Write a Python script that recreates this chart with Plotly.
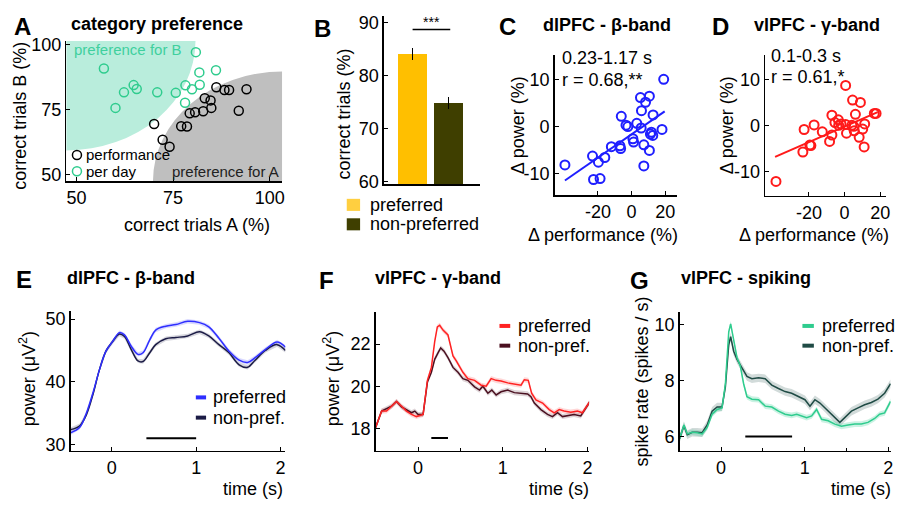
import plotly.graph_objects as go

W, H = 901, 508
FONT = "Liberation Sans, Arial, Helvetica, sans-serif"

# ---------------- data ----------------
# Panel A: category preference
a_perf_x = [70.1, 72.3, 74.1, 77.1, 78.6, 79.3, 80.7, 82.8, 83.2, 84.7, 84.9, 86.2, 88.3, 89.5, 94.0, 92.0]
a_perf_y = [69.5, 63.4, 60.7, 68.6, 68.5, 73.6, 74.0, 74.4, 79.4, 78.6, 75.7, 83.7, 82.6, 82.6, 82.9, 74.6]
a_day_x = [57.1, 80.9, 81.8, 86.1, 64.8, 65.6, 62.3, 70.9, 75.7, 78.2, 79.9, 81.9, 60.1, 78.1]
a_day_y = [90.9, 97.2, 89.4, 90.2, 84.5, 83.0, 81.7, 81.7, 81.5, 84.4, 82.9, 84.6, 75.7, 77.7]
a_ticks = [50, 75, 100]

# Panel B: correct trials
b_labels = ["preferred", "non-preferred"]
b_values = [84.1, 74.8]
b_err = [1.1, 1.1]
b_ticks = [60, 70, 80, 90]

# Panel C: dlPFC beta, delta power vs delta performance
c_x = [-39.6, 19.1, 5.3, 10.6, 8.3, 5.9, 12.8, -6.1, -3.3, -2.2, 3.1, 5.7, 18.1, 11.8, 11.2, 12.6,
       0.8, 1.2, 7.3, 10.6, -12.0, -6.9, -6.5, -23.2, -15.9, -19.7, 7.3, -22.6, -18.7]
c_y = [-8.2, 10.1, 6.2, 6.5, 5.2, 3.4, 2.5, 2.2, 0.3, 0.0, 0.7, -0.3, -0.6, -1.2, -1.6, -1.9,
       -2.6, -3.3, -3.9, -5.1, -4.3, -4.1, -4.7, -6.3, -6.6, -7.6, -8.4, -11.3, -11.1]
c_fit = dict(slope=0.249, intercept=-1.65, xmin=-39.6, xmax=19.7)

# Panel D: vlPFC gamma
d_x = [-38.5, 0.6, 4.5, 8.9, -7.1, 6.1, 16.7, 17.7, -3.5, -5.4, -2.0, 0.6, 4.1, 5.2, 11.3,
       -3.3, -17.1, -22.7, -12.5, 1.1, 5.4, 10.2, -7.1, 8.2, -8.4, -19.5, -18.9, -23.4, 11.0]
d_y = [-12.1, 8.8, 5.6, 5.1, 2.3, 2.5, 2.7, 2.7, 1.3, 0.7, 0.4, 0.3, 0.1, -0.1, 0.4,
       0.1, 0.2, -0.8, -1.3, -1.6, -1.1, -0.7, -2.0, -2.5, -3.4, -4.2, -4.3, -5.7, -4.6]
d_fit = dict(slope=0.169, intercept=-0.17, xmin=-39.0, xmax=18.6)
cd_xticks = [-20, 0, 20]
cd_yticks = [-10, 0, 10]

# Panel E: dlPFC beta power over time
e_t = [-0.49, -0.38, -0.30, -0.22, -0.15, -0.07, 0.01, 0.09, 0.15, 0.23, 0.31, 0.37, 0.45, 0.52,
       0.64, 0.76, 0.90, 1.04, 1.15, 1.27, 1.39, 1.51, 1.61, 1.70, 1.82, 1.96, 2.06]
e_pref = [31.86, 32.74, 35.06, 38.42, 41.78, 44.88, 46.43, 47.83, 47.47, 45.66, 44.37, 44.63, 46.69, 48.24,
          48.86, 49.12, 49.64, 49.43, 48.76, 46.95, 44.88, 43.44, 43.07, 43.85, 45.14, 46.33, 45.5]
e_nonp = [32.38, 33.0, 34.81, 38.17, 41.78, 44.88, 46.43, 47.62, 47.21, 45.14, 43.33, 43.23, 44.63, 45.92,
          46.85, 47.05, 47.31, 47.98, 47.31, 45.92, 44.63, 42.71, 42.30, 43.44, 44.99, 45.92, 44.99]
e_sem = [0.35, 0.35]
e_sig = [0.41, 1.0, 31.0]

# Panel F: vlPFC gamma power over time
f_t_pref = [-0.502, -0.431, -0.373, -0.314, -0.255, -0.196, -0.137, -0.078, -0.020, 0.059, 0.110, 0.157,
            0.196, 0.227, 0.255, 0.294, 0.353, 0.412, 0.451, 0.529, 0.588, 0.667, 0.745, 0.804, 0.863,
            0.922, 0.980, 1.059, 1.137, 1.216, 1.255, 1.302, 1.341, 1.392, 1.471, 1.549, 1.608, 1.667,
            1.725, 1.804, 1.882, 1.941, 2.031]
f_pref = [18.07, 18.84, 18.84, 19.07, 19.29, 19.07, 18.84, 18.68, 18.58, 18.68, 20.29, 20.90,
          22.12, 22.81, 22.89, 22.66, 22.43, 21.44, 21.21, 20.67, 20.37, 20.29, 20.06, 20.01, 20.37,
          20.29, 20.26, 20.17, 20.11, 20.06, 20.32, 20.29, 19.68, 19.37, 19.22, 18.91, 18.76, 18.91,
          18.84, 18.79, 18.84, 18.76, 19.29]
f_t_nonp = [-0.502, -0.431, -0.314, -0.255, -0.196, -0.078, -0.039, 0.0, 0.059, 0.110, 0.157, 0.196,
            0.235, 0.267, 0.306, 0.353, 0.412, 0.471, 0.529, 0.588, 0.667, 0.725, 0.765, 0.824, 0.871,
            0.922, 0.980, 1.059, 1.137, 1.216, 1.294, 1.333, 1.373, 1.451, 1.529, 1.588, 1.647, 1.706,
            1.765, 1.843, 1.922, 2.031]
f_nonp = [18.07, 18.84, 19.07, 19.29, 19.04, 18.76, 18.84, 18.68, 18.68, 20.21, 20.67, 21.28,
          21.59, 21.82, 21.67, 21.36, 20.90, 20.67, 20.37, 20.29, 19.98, 19.83, 20.01, 19.68, 19.83,
          19.60, 19.75, 19.83, 19.71, 19.68, 19.65, 19.52, 19.22, 18.91, 18.68, 18.58, 18.76, 18.58,
          18.61, 18.68, 18.61, 19.29]
f_sem = [0.12, 0.12]
f_sig = [0.156, 0.353, 17.57]

# Panel G: vlPFC spiking over time
g_t_pref = [-0.496, -0.444, -0.404, -0.345, -0.285, -0.226, -0.166, -0.107, -0.047, 0.012, 0.052, 0.092,
            0.115, 0.151, 0.191, 0.230, 0.270, 0.310, 0.369, 0.449, 0.528, 0.607, 0.687, 0.766, 0.845,
            0.905, 0.965, 1.024, 1.084, 1.143, 1.203, 1.282, 1.361, 1.441, 1.520, 1.600, 1.679, 1.758,
            1.838, 1.897, 1.957, 2.028]
g_pref = [5.92, 6.41, 6.09, 6.15, 6.13, 6.09, 6.32, 6.79, 6.96, 7.02, 7.88, 9.73,
          10.02, 9.50, 8.81, 8.52, 7.88, 7.42, 7.33, 7.31, 7.08, 7.05, 6.90, 6.79, 6.75,
          6.79, 6.73, 6.67, 6.73, 6.96, 6.61, 6.56, 6.44, 6.36, 6.41, 6.44, 6.44, 6.50,
          6.64, 6.79, 6.84, 7.25]
g_t_nonp = [-0.496, -0.444, -0.404, -0.345, -0.285, -0.226, -0.166, -0.107, -0.047, 0.012, 0.052, 0.092,
            0.115, 0.151, 0.191, 0.250, 0.310, 0.369, 0.449, 0.528, 0.607, 0.687, 0.766, 0.845, 0.925,
            1.004, 1.064, 1.123, 1.183, 1.242, 1.302, 1.361, 1.421, 1.480, 1.560, 1.639, 1.718, 1.798,
            1.877, 1.957, 2.028]
g_nonp = [5.92, 6.38, 6.06, 6.15, 6.15, 6.13, 6.41, 6.90, 7.05, 7.05, 7.77, 9.27,
          9.56, 9.04, 8.75, 8.46, 8.14, 8.06, 8.09, 8.06, 7.83, 7.71, 7.60, 7.54, 7.42,
          7.31, 7.08, 7.31, 7.19, 7.02, 6.84, 6.64, 6.50, 6.67, 6.90, 7.02, 7.13, 7.21,
          7.33, 7.54, 7.88]
g_sem = [0.10, 0.15]
g_sig = [0.29, 0.85, 6.0]
time_ticks = [0, 1, 2]

# ---------------- helpers ----------------
def fx(px):
    return px / W

def fy(py):
    return 1 - py / H

fig = go.Figure()
annotations = []
shapes = []


def ann(px, py, text, size=18, xanchor="left", yanchor="middle", color="black", angle=0):
    annotations.append(dict(x=fx(px), y=fy(py), xref="paper", yref="paper", text=text,
                            showarrow=False, xanchor=xanchor, yanchor=yanchor, textangle=angle,
                            font=dict(size=size, color=color, family=FONT)))


def base_axis(tv):
    return dict(tickvals=tv, ticktext=[str(v) for v in tv], showline=True, linecolor="black",
                linewidth=1.6, ticks="inside", ticklen=4, tickwidth=1, tickcolor="black",
                showgrid=False, zeroline=False, tickfont=dict(size=18, color="black", family=FONT))


def xax(x0, x1, rng, tv, **kw):
    d = base_axis(tv)
    d.update(domain=[fx(x0), fx(x1)], range=rng)
    d.update(kw)
    return d


def yax(y0, y1, rng, tv, **kw):
    d = base_axis(tv)
    d.update(domain=[fy(y1), fy(y0)], range=rng)
    d.update(kw)
    return d


# ---------------- Panel A ----------------
TEAL_BG = "#b9eddc"
GREEN = "#2fcc8e"
a_xr = [47.4, 103.2]
a_yr = [47.5, 101.5]
rx, ry = 33.4, 42.2
shapes.append(dict(type="circle", xref="x", yref="y", x0=a_xr[0] - rx, x1=a_xr[0] + rx,
                   y0=a_yr[1] - ry, y1=a_yr[1] + ry, fillcolor=TEAL_BG, line=dict(width=0), layer="below"))
shapes.append(dict(type="circle", xref="x", yref="y", x0=a_xr[1] - rx, x1=a_xr[1] + rx,
                   y0=a_yr[0] - ry, y1=a_yr[0] + ry, fillcolor="#bfbfbf", line=dict(width=0), layer="below"))
fig.add_trace(go.Scatter(x=a_perf_x, y=a_perf_y, mode="markers", xaxis="x", yaxis="y",
                         marker=dict(symbol="circle-open", size=9, color="black", line=dict(width=1.5))))
fig.add_trace(go.Scatter(x=a_day_x, y=a_day_y, mode="markers", xaxis="x", yaxis="y",
                         marker=dict(symbol="circle-open", size=9, color=GREEN, line=dict(width=1.5))))
for py, col in [(153.3, "black"), (170, GREEN)]:
    shapes.append(dict(type="circle", xref="paper", yref="paper", xsizemode="pixel", ysizemode="pixel",
                       xanchor=fx(77.3), yanchor=fy(py), x0=-4.5, x1=4.5, y0=-4.5, y1=4.5,
                       line=dict(color=col, width=1.5)))
ann(84, 153, "performance", size=15)
ann(84, 170, "per day", size=15)
ann(72, 45, "preference for B", size=15, color="#3fd09e")
ann(282, 170, "preference for A", size=15, xanchor="right", color="#222")
ann(22.5, 21, "<b>A</b>", size=24, xanchor="center")
ann(69, 19, "<b>category preference</b>", size=18)
ann(20, 113, "correct trials B (%)", size=18, xanchor="center", angle=-90)
ann(198, 225, "correct trials A (%)", size=18, xanchor="center")

# ---------------- Panel B ----------------
B_COLORS = ["#ffbf00", "#3f3f00"]
for i in range(2):
    fig.add_trace(go.Bar(x=[i], y=[b_values[i]], xaxis="x2", yaxis="y2", width=0.8,
                         marker=dict(color=B_COLORS[i], line=dict(width=0)), name=b_labels[i],
                         error_y=dict(type="data", array=[b_err[i]], color="black", thickness=1, width=0)))
fig.add_trace(go.Scatter(x=[0, 1.04], y=[88.7, 88.7], mode="lines", xaxis="x2", yaxis="y2",
                         line=dict(color="black", width=1.5)))
ann(433.3, 16, "***", size=14, xanchor="center")
for i, py in enumerate([204.5, 224.5]):
    shapes.append(dict(type="rect", xref="paper", yref="paper", x0=fx(348.3), x1=fx(361.7),
                       y0=fy(py + 6.2), y1=fy(py - 6.2), fillcolor=B_COLORS[i] if i else "#ffcf40",
                       line=dict(width=0)))
    ann(369.3, py, b_labels[i], size=18)
ann(324, 23, "<b>B</b>", size=24, xanchor="center")
ann(345, 111, "correct trials (%)", size=18, xanchor="center", angle=-90)

# ---------------- Panel C ----------------
BLUE = "#1f1fff"
fig.add_trace(go.Scatter(x=c_x, y=c_y, mode="markers", xaxis="x3", yaxis="y3",
                         marker=dict(symbol="circle-open", size=9, color=BLUE, line=dict(width=2))))
fig.add_trace(go.Scatter(x=[c_fit["xmin"], c_fit["xmax"]],
                         y=[c_fit["slope"] * c_fit["xmin"] + c_fit["intercept"],
                            c_fit["slope"] * c_fit["xmax"] + c_fit["intercept"]],
                         mode="lines", xaxis="x3", yaxis="y3", line=dict(color=BLUE, width=2)))
ann(510, 21, "<b>C</b>", size=24, xanchor="center")
ann(543, 20, "<b>dlPFC - β-band</b>", size=18)
ann(562, 53, "0.23-1.17 s", size=18)
ann(562, 76, "r = 0.68,**", size=18)
ann(606, 235, "Δ performance (%)", size=18, xanchor="center")
ann(520, 123, "Δ power (%)", size=18, xanchor="center", angle=-90)

# ---------------- Panel D ----------------
RED = "#ff1a1a"
fig.add_trace(go.Scatter(x=d_x, y=d_y, mode="markers", xaxis="x4", yaxis="y4",
                         marker=dict(symbol="circle-open", size=9, color=RED, line=dict(width=2))))
fig.add_trace(go.Scatter(x=[d_fit["xmin"], d_fit["xmax"]],
                         y=[d_fit["slope"] * d_fit["xmin"] + d_fit["intercept"],
                            d_fit["slope"] * d_fit["xmax"] + d_fit["intercept"]],
                         mode="lines", xaxis="x4", yaxis="y4", line=dict(color=RED, width=2)))
ann(723.3, 21, "<b>D</b>", size=24, xanchor="center")
ann(755, 20, "<b>vlPFC - γ-band</b>", size=18)
ann(772, 51, "0.1-0.3 s", size=18)
ann(772, 73, "r = 0.61,*", size=18)
ann(818, 235, "Δ performance (%)", size=18, xanchor="center")
ann(730, 123, "Δ power (%)", size=18, xanchor="center", angle=-90)


# ---------------- time panels ----------------
def band(t, v, sem, color, ax):
    up = [a + sem for a in v]
    lo = [a - sem for a in v]
    fig.add_trace(go.Scatter(x=list(t) + list(t)[::-1], y=up + lo[::-1], fill="toself", mode="lines",
                             line=dict(width=0), fillcolor=color, xaxis="x" + ax, yaxis="y" + ax,
                             hoverinfo="skip"))


def curve(t, v, color, ax, shape="linear"):
    fig.add_trace(go.Scatter(x=t, y=v, mode="lines", xaxis="x" + ax, yaxis="y" + ax,
                             line=dict(color=color, width=1.5, shape=shape)))


def sigbar(sig, ax):
    fig.add_trace(go.Scatter(x=[sig[0], sig[1]], y=[sig[2], sig[2]], mode="lines",
                             xaxis="x" + ax, yaxis="y" + ax, line=dict(color="black", width=2)))


def legend_lines(x0, x1, tx, items):
    for py, col, label in items:
        shapes.append(dict(type="line", xref="paper", yref="paper", x0=fx(x0), x1=fx(x1),
                           y0=fy(py), y1=fy(py), line=dict(color=col, width=4)))
        ann(tx, py, label, size=18)


# E
E_P, E_N = "#2e2eff", "#1b1b45"
band(e_t, e_nonp, e_sem[1], "rgba(27,27,69,0.18)", "5")
band(e_t, e_pref, e_sem[0], "rgba(46,46,255,0.18)", "5")
curve(e_t, e_nonp, E_N, "5", "spline")
curve(e_t, e_pref, E_P, "5", "spline")
sigbar(e_sig, "5")
legend_lines(196.7, 207, 212, [(402.5, E_P, "preferred"), (423.3, E_N, "non-pref.")])
ann(24, 281, "<b>E</b>", size=24, xanchor="center")
ann(65, 280, "<b>dlPFC - β-band</b>", size=18)
ann(28, 383, "power (μV<sup>2</sup>)", size=18, xanchor="center", angle=-90)
ann(286, 497, "time (s)", size=18, xanchor="right")

# F
F_P, F_N = "#ff2222", "#4a1020"
band(f_t_nonp, f_nonp, f_sem[1], "rgba(74,16,32,0.18)", "6")
band(f_t_pref, f_pref, f_sem[0], "rgba(255,34,34,0.18)", "6")
curve(f_t_nonp, f_nonp, F_N, "6")
curve(f_t_pref, f_pref, F_P, "6")
sigbar(f_sig, "6")
legend_lines(501.7, 512.5, 518.3, [(329, F_P, "preferred"), (349.3, F_N, "non-pref.")])
ann(328.3, 282, "<b>F</b>", size=24, xanchor="center")
ann(375, 280, "<b>vlPFC - γ-band</b>", size=18)
ann(333.3, 383, "power (μV<sup>2</sup>)", size=18, xanchor="center", angle=-90)
ann(593.3, 497, "time (s)", size=18, xanchor="right")

# G
G_P, G_N = "#2fcc8e", "#1f4b45"
band(g_t_nonp, g_nonp, g_sem[1], "rgba(31,75,69,0.2)", "7")
band(g_t_pref, g_pref, g_sem[0], "rgba(47,204,142,0.25)", "7")
curve(g_t_nonp, g_nonp, G_N, "7")
curve(g_t_pref, g_pref, G_P, "7")
sigbar(g_sig, "7")
legend_lines(806, 817.5, 823.5, [(329, G_P, "preferred"), (349.3, G_N, "non-pref.")])
ann(642.5, 282, "<b>G</b>", size=24, xanchor="center")
ann(681.7, 280, "<b>vlPFC - spiking</b>", size=18)
ann(645, 386, "spike rate (spikes / s)", size=18, xanchor="center", angle=-90)
ann(896.7, 497, "time (s)", size=18, xanchor="right")

# ---------------- layout ----------------
minor_t = dict(ticks="inside", dtick=0.5, ticklen=3, tickcolor="black")
fig.update_layout(
    width=W, height=H, autosize=False, showlegend=False,
    margin=dict(l=0, r=0, t=0, b=0), paper_bgcolor="white", plot_bgcolor="white",
    font=dict(family=FONT, size=18, color="black"), bargap=0,
    annotations=annotations, shapes=shapes,
    xaxis=xax(66.7, 283.3, a_xr, a_ticks, anchor="y"),
    yaxis=yax(36, 180, a_yr, a_ticks, anchor="x"),
    xaxis2=xax(385.7, 481.7, [-0.79, 1.85], [], anchor="y2", ticks="", showticklabels=False),
    yaxis2=yax(10, 183.3, [59.5, 91.3], b_ticks, anchor="x2"),
    xaxis3=xax(557.3, 680, [-45.6, 27.0], cd_xticks, anchor="y3"),
    yaxis3=yax(50, 194.3, [-14.6, 15.37], cd_yticks, anchor="x3"),
    xaxis4=xax(768.7, 890, [-44.5, 23.3], cd_xticks, anchor="y4"),
    yaxis4=yax(50, 195, [-15.2, 15.5], cd_yticks, anchor="x4"),
    xaxis5=xax(71, 286.7, [-0.488, 2.059], time_ticks, anchor="y5"),
    yaxis5=yax(313.5, 457.3, [29.02, 51.3], [30, 40, 50], anchor="x5"),
    xaxis6=xax(377.3, 591.7, [-0.502, 2.02], time_ticks, anchor="y6", minor=minor_t),
    yaxis6=yax(315, 457.3, [16.97, 23.5], [18, 20, 22], anchor="x6"),
    xaxis7=xax(682.7, 894.7, [-0.495, 2.03], time_ticks, anchor="y7", minor=minor_t),
    yaxis7=yax(315, 457.3, [5.49, 10.43], [6, 8, 10], anchor="x7"),
)

fig.write_html("out.html", config={"displayModeBar": False, "staticPlot": True},
               post_script="document.body.style.margin='0px';document.body.style.overflow='hidden';")
